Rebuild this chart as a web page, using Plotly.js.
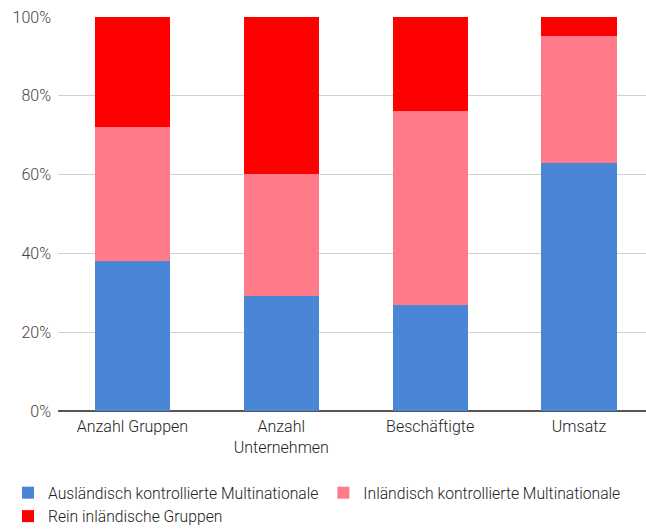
<!DOCTYPE html>
<html><head><meta charset="utf-8">
<script src="https://cdn.plot.ly/plotly-3.0.1.min.js"></script>
<style>body{margin:0;background:#fff}#c{width:646px;height:529px}</style>
</head><body><div id="c"></div>
<script>
const categories = ["Anzahl Gruppen", "Anzahl<br>Unternehmen", "Beschäftigte", "Umsatz"];
const auslaendisch = [38.1, 29.2, 26.9, 62.9];
const inlaendischMulti = [34.0, 31.0, 49.2, 32.3];
const reinInlaendisch = [27.9, 39.8, 23.9, 4.8];
const seriesNames = ["Ausländisch kontrollierte Multinationale", "Inländisch kontrollierte Multinationale", "Rein inländische Gruppen"];
const colors = ["#4a86d6", "#ff7b89", "#ff0000"];

const data = [auslaendisch, inlaendischMulti, reinInlaendisch].map((v, i) => ({
  type: "bar", x: categories, y: v, name: seriesNames[i],
  marker: {color: colors[i], line: {width: 0}}, hoverinfo: "skip"
}));

Plotly.newPlot("c", data, {
  width: 646, height: 529, barmode: "stack", bargap: 0.495,
  margin: {l: 58, r: 0, t: 17, b: 118, autoexpand: false},
  font: {family: "Roboto, sans-serif", size: 16, color: "#444", weight: 300},
  paper_bgcolor: "#fff", plot_bgcolor: "#fff",
  xaxis: {showgrid: false, range: [-0.5, 3.45], tickfont: {size: 16, color: "#222", weight: 300},
          ticks: "", showline: false, ticklabelstandoff: 4, automargin: false},
  yaxis: {range: [0, 100], dtick: 20, ticksuffix: "%", gridcolor: "#d0d0d0", gridwidth: 1,
          zeroline: true, zerolinecolor: "#555", zerolinewidth: 1.5, automargin: false,
          tickfont: {size: 16, color: "#444", weight: 300}, ticks: "", ticklabelstandoff: 6, fixedrange: true},
  showlegend: true,
  legend: {orientation: "h", x: -0.085, xanchor: "left", y: -0.165, yanchor: "top",
           font: {size: 15.7, color: "#222", weight: 300}, traceorder: "normal", itemwidth: 30, tracegroupgap: 0}
}, {displayModeBar: false, staticPlot: true});
</script></body></html>
